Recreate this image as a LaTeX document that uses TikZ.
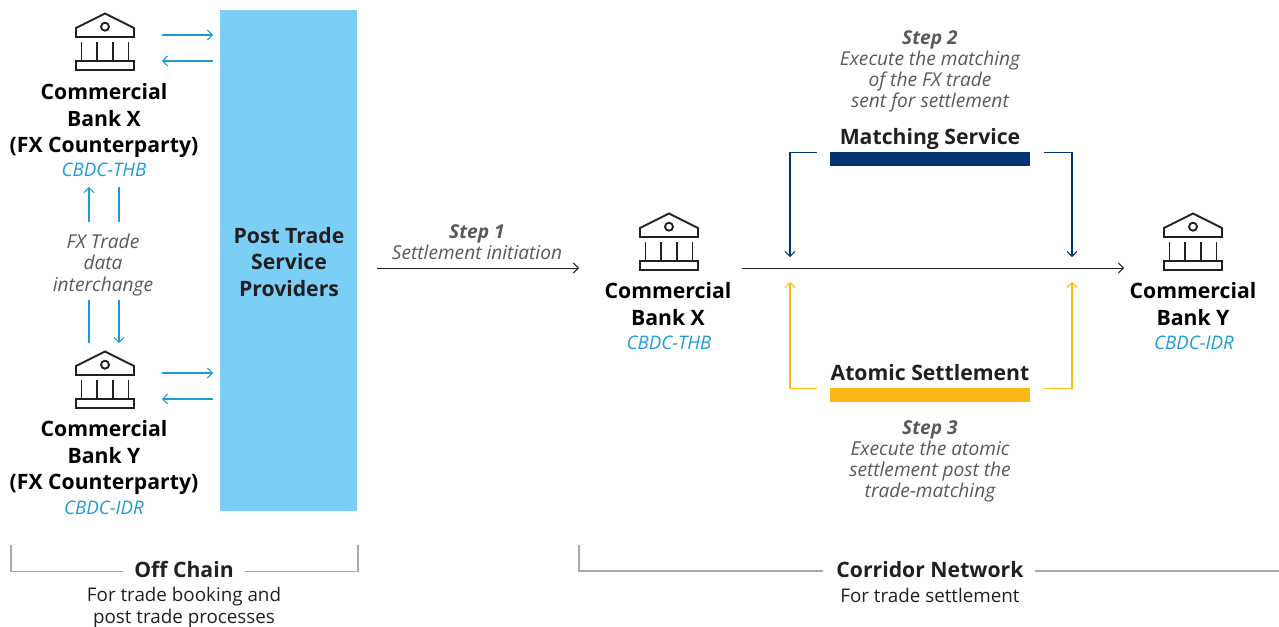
\documentclass[tikz,border=0pt]{standalone}
\usepackage{fontspec}
\setmainfont{Open Sans}
\usepackage{xcolor}
\definecolor{skyblue}{HTML}{7BCFF6}
\definecolor{linkblue}{HTML}{1E9BD7}
\definecolor{navy}{HTML}{003473}
\definecolor{amber}{HTML}{FDB913}
\definecolor{inkdark}{HTML}{231F20}
\definecolor{stepgrey}{HTML}{58595B}
\definecolor{rulegrey}{HTML}{A7A9AC}
\usepackage{tikz}
\usetikzlibrary{calc}
\usetikzlibrary{arrows.meta}
\def\pxsize{0.75pt}
\tikzset{
  tip/.style={-{Straight Barb[length=3.6pt,width=7.5pt,line width=0.8pt]}},
  link/.style={line width=0.8pt, linkblue},
  navyline/.style={line width=0.85pt, navy},
  amberline/.style={line width=0.85pt, amber},
  flowline/.style={line width=0.75pt, inkdark},
  bracket/.style={line width=0.9pt, rulegrey},
  bankname/.style={align=center, inner sep=0pt, text=black, font=\fontsize{15.9}{20.2}\selectfont\bfseries},
  cbdc/.style={inner sep=0pt, text=linkblue, font=\fontsize{14}{16}\selectfont\itshape},
  steptext/.style={align=center, inner sep=0pt, text=stepgrey, font=\fontsize{14.35}{15.9}\selectfont\itshape},
  heading/.style={inner sep=0pt, align=center, text=inkdark, font=\fontsize{15.9}{19.8}\selectfont\bfseries},
  plaintext/.style={inner sep=0pt, align=center, text=inkdark, font=\fontsize{14.1}{16.4}\selectfont},
  bar/.style={inner sep=0pt, minimum width=150pt, minimum height=10.5pt},
}
% bank icon, #1 is the top of the roof
\newcommand{\bankicon}[1]{
  \begin{scope}[shift={(#1)}, line width=1.4pt, inkdark, line join=miter]
    \draw (-29, 14.5) -- (0, 0) -- (29, 14.5) -- (29, 23.5) -- (-29, 23.5) -- cycle;
    \draw (0, 13.2) circle[radius=3pt];
    \draw (-23.5, 28.5) -- (-23.5, 47.5);
    \draw (-8, 28.5) -- (-8, 47.5);
    \draw (8, 28.5) -- (8, 47.5);
    \draw (23.5, 28.5) -- (23.5, 47.5);
    \draw (-29, 47.5) rectangle (29, 56.5);
  \end{scope}
}

\begin{document}
\begin{tikzpicture}[x=\pxsize, y=-\pxsize]
\useasboundingbox (0, 0) rectangle (1279, 626);

% OFF CHAIN SIDE
% service providers
\node[fill=skyblue, inner sep=0pt, minimum width=102.75pt, minimum height=375.75pt] (providers) at (288.5, 260.5) {};
\node[heading] (providerstext) at (289, 262) {Post Trade\\Service\\Providers};
% upper bank
\bankicon{105, 13.5}
\node[bankname] (bankxname) at (104, 120.5) {Commercial\\Bank X\\(FX Counterparty)};
\node[cbdc] (bankxcbdc) at (104, 170) {CBDC-THB};
% lower bank
\bankicon{105, 351.5}
\node[bankname] (bankyname) at (104, 457.5) {Commercial\\Bank Y\\(FX Counterparty)};
\node[cbdc] (bankycbdc) at (104, 508) {CBDC-IDR};
% data interchange
\node[steptext] (interchange) at (103, 265) {FX Trade\\data\\interchange};
\coordinate (upA) at (89, 222);
\coordinate (upB) at (89, 187);
\coordinate (upC) at (119, 222);
\coordinate (upD) at (119, 187);
\coordinate (downA) at (89, 300);
\coordinate (downB) at (89, 343);
\coordinate (downC) at (119, 300);
\coordinate (downD) at (119, 343);
\draw[link, tip] (upA) -- (upB);
\draw[link] (upC) -- (upD);
\draw[link] (downA) -- (downB);
\draw[link, tip] (downC) -- (downD);
% bank to provider arrows
\coordinate (outX) at (162, 35);
\coordinate (inX) at (162, 61);
\coordinate (outY) at (162, 373);
\coordinate (inY) at (162, 399);
\draw[link, tip] (outX) -- (outX -| 213, 0);
\draw[link, tip] (inX -| 213, 0) -- (inX);
\draw[link, tip] (outY) -- (outY -| 213, 0);
\draw[link, tip] (inY -| 213, 0) -- (inY);

% STEP 1
\node[steptext] (stepone) at (477, 242) {\textbf{Step 1}\\Settlement initiation};
\coordinate (startA) at (377, 268);
\coordinate (startB) at (579, 268);
\draw[flowline, tip] (startA) -- (startB);

% CORRIDOR SIDE
% banks
\bankicon{669, 213.5}
\node[bankname] (corridorx) at (668, 304) {Commercial\\Bank X};
\node[cbdc] (corridorxcbdc) at (669, 343) {CBDC-THB};
\bankicon{1193, 213.5}
\node[bankname] (corridory) at (1193, 304) {Commercial\\Bank Y};
\node[cbdc] (corridorycbdc) at (1194, 343) {CBDC-IDR};
% main flow
\coordinate (flowA) at (742, 268);
\coordinate (flowB) at (1124, 268);
\draw[flowline, tip] (flowA) -- (flowB);

% MATCHING SERVICE
\node[steptext] (steptwo) at (930, 71.5) {\textbf{Step 2}\\Execute the matching\\of the FX trade\\sent for settlement};
\node[heading] (matching) at (930, 139) {Matching Service};
\node[bar, fill=navy] (matchingbar) at (930, 159) {};
\coordinate (matchL) at ($(matchingbar.north west) + (-13, 0.5)$);
\coordinate (matchLC) at (790, 0 |- matchL);
\coordinate (matchLE) at (790, 257);
\coordinate (matchR) at ($(matchingbar.north east) + (14, 0.5)$);
\coordinate (matchRC) at (1072, 0 |- matchR);
\coordinate (matchRE) at (1072, 257);
\draw[navyline, tip] (matchL) -- (matchLC) -- (matchLE);
\draw[navyline, tip] (matchR) -- (matchRC) -- (matchRE);

% ATOMIC SETTLEMENT
\node[heading] (atomic) at (930, 373) {Atomic Settlement};
\node[bar, fill=amber] (atomicbar) at (930, 395) {};
\node[steptext] (stepthree) at (930, 461.5) {\textbf{Step 3}\\Execute the atomic\\settlement post the\\trade-matching};
\coordinate (atomL) at ($(atomicbar.north west) + (-13, 0.5)$);
\coordinate (atomLC) at (790, 0 |- atomL);
\coordinate (atomLE) at (790, 282);
\coordinate (atomR) at ($(atomicbar.north east) + (14, 0.5)$);
\coordinate (atomRC) at (1072, 0 |- atomR);
\coordinate (atomRE) at (1072, 282);
\draw[amberline, tip] (atomL) -- (atomLC) -- (atomLE);
\draw[amberline, tip] (atomR) -- (atomRC) -- (atomRE);

% BRACKETS
\node[heading] (offchain) at (184, 569.5) {Off Chain};
\node[plaintext] (offchainnote) at (184, 608) {For trade booking and\\post trade processes};
\coordinate (offA) at (11, 545);
\coordinate (offB) at (11, 571.5);
\coordinate (offC) at (358, 545);
\coordinate (offD) at (358, 571.5);
\draw[bracket] (offA) -- (offB) -- ($(offchain.west |- offB) + (-11, 0)$);
\draw[bracket] (offC) -- (offD) -- ($(offchain.east |- offD) + (11, 0)$);
\node[heading] (corridor) at (930, 569.5) {Corridor Network};
\node[plaintext] (corridornote) at (930, 595) {For trade settlement};
\coordinate (corA) at (579, 545);
\coordinate (corB) at (579, 571);
\coordinate (corC) at (1279, 571);
\draw[bracket] (corA) -- (corB) -- ($(corridor.west |- corB) + (-13, 0)$);
\draw[bracket] (corC) -- ($(corridor.east |- corC) + (11, 0)$);

\end{tikzpicture}
\end{document}
